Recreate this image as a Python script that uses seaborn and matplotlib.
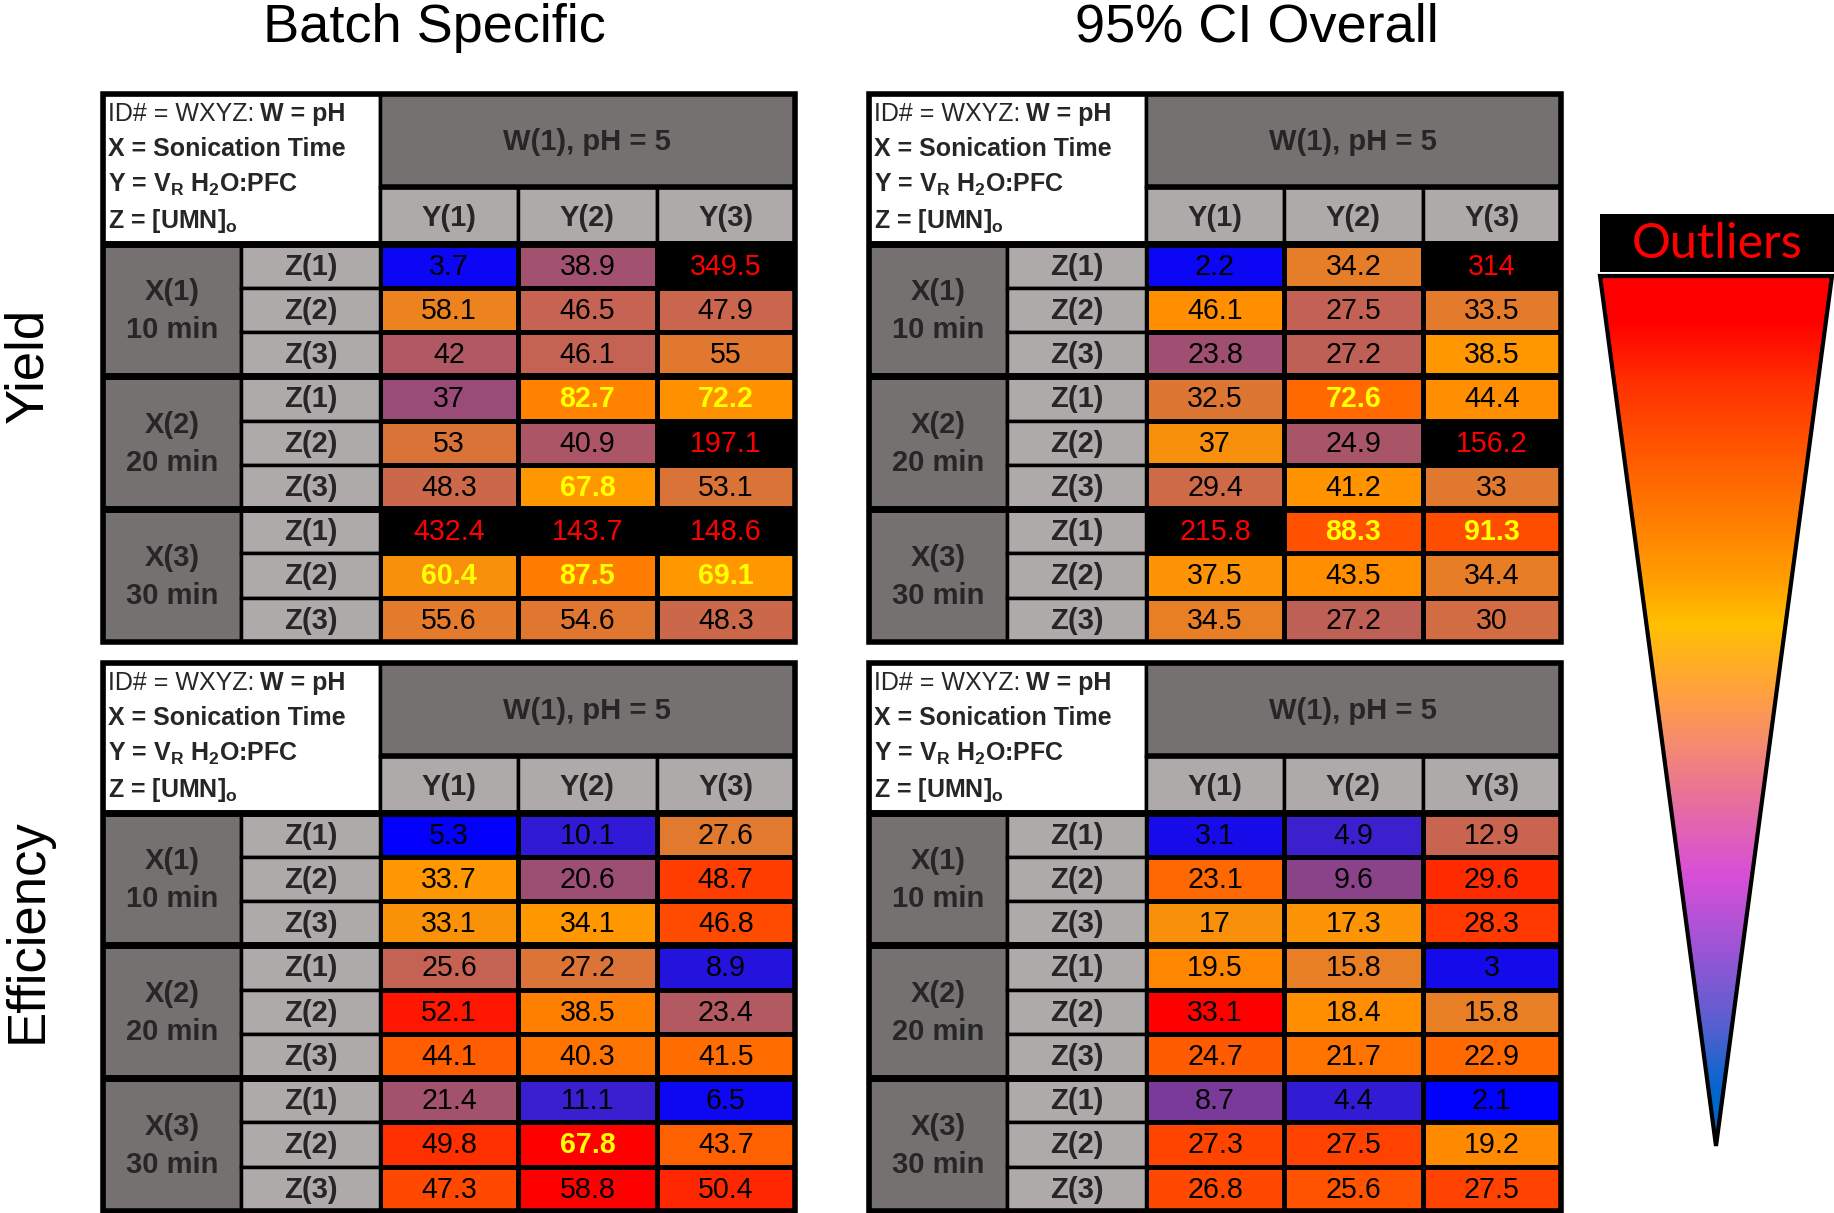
import numpy as np
import matplotlib
matplotlib.use("Agg")
import matplotlib.pyplot as plt
import seaborn as sns
from matplotlib import colors as mcolors
from matplotlib import font_manager
from matplotlib.patches import Rectangle, Polygon

sns.set_theme(style="white")
plt.rcParams["font.family"] = ["Liberation Sans", "DejaVu Sans"]

# ---------------------------------------------------------------------------
# data (rows = Z(1..3) inside X(1..3), columns = Y(1..3))
# ---------------------------------------------------------------------------
Y_LABELS = ["Y(1)", "Y(2)", "Y(3)"]
Z_LABELS = ["Z(1)", "Z(2)", "Z(3)"]
X_LABELS = ["X(1)", "X(2)", "X(3)"]
X_TIMES = ["10 min", "20 min", "30 min"]
W_LABEL = "W(1), pH = 5"
COL_TITLES = ["Batch Specific", "95% CI Overall"]
ROW_TITLES = ["Yield", "Efficiency"]

yield_batch = [
    [3.7, 38.9, 349.5],
    [58.1, 46.5, 47.9],
    [42, 46.1, 55],
    [37, 82.7, 72.2],
    [53, 40.9, 197.1],
    [48.3, 67.8, 53.1],
    [432.4, 143.7, 148.6],
    [60.4, 87.5, 69.1],
    [55.6, 54.6, 48.3],
]
yield_ci = [
    [2.2, 34.2, 314],
    [46.1, 27.5, 33.5],
    [23.8, 27.2, 38.5],
    [32.5, 72.6, 44.4],
    [37, 24.9, 156.2],
    [29.4, 41.2, 33],
    [215.8, 88.3, 91.3],
    [37.5, 43.5, 34.4],
    [34.5, 27.2, 30],
]
eff_batch = [
    [5.3, 10.1, 27.6],
    [33.7, 20.6, 48.7],
    [33.1, 34.1, 46.8],
    [25.6, 27.2, 8.9],
    [52.1, 38.5, 23.4],
    [44.1, 40.3, 41.5],
    [21.4, 11.1, 6.5],
    [49.8, 67.8, 43.7],
    [47.3, 58.8, 50.4],
]
eff_ci = [
    [3.1, 4.9, 12.9],
    [23.1, 9.6, 29.6],
    [17, 17.3, 28.3],
    [19.5, 15.8, 3],
    [33.1, 18.4, 15.8],
    [24.7, 21.7, 22.9],
    [8.7, 4.4, 2.1],
    [27.3, 27.5, 19.2],
    [26.8, 25.6, 27.5],
]

OUTLIER_MIN = 100   # shown black with red text
HIGHLIGHT_MIN = 60  # bold yellow text

# colour scale: anchor values -> position on the colour map, one per table
SCALES = {
    "yield_batch": ([0, 37, 47, 55, 60, 68, 150], [0, 0.38, 0.5, 0.6, 0.72, 0.75, 1]),
    "yield_ci": ([0, 24, 28, 33, 38, 125], [0, 0.4, 0.5, 0.6, 0.75, 1]),
    "eff_batch": ([5, 11, 21, 26, 27.5, 34, 44, 54], [0, 0.18, 0.4, 0.5, 0.6, 0.75, 0.87, 1]),
    "eff_ci": ([2, 4.7, 8.7, 12.9, 15.8, 17.5, 23, 28, 33],
               [0, 0.18, 0.3, 0.5, 0.65, 0.75, 0.85, 0.93, 1]),
}

CELL_CMAP = mcolors.LinearSegmentedColormap.from_list("cells", [
    (0.00, "#0000FF"), (0.10, "#2010E0"), (0.18, "#3A1FD0"), (0.30, "#7A3A98"),
    (0.40, "#A05070"), (0.50, "#C86450"), (0.60, "#E07830"), (0.67, "#EC8220"),
    (0.75, "#FF9800"), (0.85, "#FF6A00"), (0.93, "#FF4000"), (1.00, "#FF0000"),
])
LEGEND_CMAP = mcolors.LinearSegmentedColormap.from_list("legend", [
    (0.00, "#0066CC"), (0.06, "#0066CC"), (0.14, "#5A5FD0"), (0.22, "#9955D5"),
    (0.31, "#D84FD8"), (0.40, "#E8709A"), (0.46, "#F48A72"), (0.52, "#FFA040"),
    (0.60, "#FFC000"), (0.65, "#FFA000"), (0.75, "#FF7000"), (0.88, "#FF3000"),
    (0.95, "#FF0000"), (1.00, "#FF0000"),
])

DARK_GRAY = "#767171"
LIGHT_GRAY = "#AEAAAA"

installed = {f.name for f in font_manager.fontManager.ttflist}
if "Liberation Sans Narrow" in installed:
    CELL_FONT, FS = "Liberation Sans Narrow", 1.0
else:
    CELL_FONT, FS = "Liberation Sans", 0.84

FIG_W, FIG_H = 1834, 1213
HDR = 3.38        # header height in row units
W_SPLIT = -1.27   # border between W header and Y header

fig = plt.figure(figsize=(FIG_W / 100, FIG_H / 100), dpi=100)

# overlay for titles and the legend, in pixel coordinates
over = fig.add_axes([0, 0, 1, 1])
over.set_xlim(0, FIG_W)
over.set_ylim(FIG_H, 0)
over.axis("off")

for x, title in zip([434, 1257], COL_TITLES):
    over.text(x, 42, title, ha="center", va="baseline", fontsize=39, color="black")
for y, title in zip([365, 931], ROW_TITLES):
    over.text(42, y, title, rotation=90, rotation_mode="anchor",
              ha="center", va="baseline", fontsize=38, color="black")

# legend: "Outliers" box + gradient triangle
over.add_patch(Rectangle((1600, 214), 234, 58, facecolor="black", edgecolor="none"))
over.text(1717, 244, "Outliers", ha="center", va="center", fontsize=35,
          color="#FF0000", family=["Lato", "DejaVu Sans"])
tri = Polygon([(1600, 276), (1832, 276), (1716, 1146)], closed=True,
              facecolor="none", edgecolor="black", lw=3, zorder=3)
grad = np.linspace(1, 0, 400)[:, None]
im = over.imshow(grad, cmap=LEGEND_CMAP, aspect="auto",
                 extent=(1600, 1832, 1146, 276), interpolation="bilinear", zorder=2)
over.add_patch(tri)
im.set_clip_path(tri)
over.set_xlim(0, FIG_W)
over.set_ylim(FIG_H, 0)


def draw_table(rect, values, scale):
    left, top, right, bottom = rect
    ax = fig.add_axes([left / FIG_W, 1 - bottom / FIG_H,
                       (right - left) / FIG_W, (bottom - top) / FIG_H])
    ax.set_facecolor("black")

    vals = np.array(values, dtype=float)
    outlier = vals >= OUTLIER_MIN
    av, ap = scale
    norm = mcolors.FuncNorm((lambda v: np.interp(v, av, ap),
                             lambda p: np.interp(p, ap, av)),
                            vmin=av[0], vmax=av[-1])
    sns.heatmap(np.where(outlier, np.nan, vals), ax=ax, cmap=CELL_CMAP, norm=norm,
                cbar=False, linewidths=2.5, linecolor="black",
                xticklabels=False, yticklabels=False)

    # value labels
    for i in range(vals.shape[0]):
        for j in range(vals.shape[1]):
            v = vals[i, j]
            if outlier[i, j]:
                color, weight = "#FF0000", "normal"
            elif v >= HIGHLIGHT_MIN:
                color, weight = "#FFFF00", "bold"
            else:
                color, weight = "black", "normal"
            ax.text(j + 0.5, i + 0.52, f"{v:g}", ha="center", va="center",
                    fontsize=24.5 * FS, color=color, fontweight=weight,
                    family=[CELL_FONT, "DejaVu Sans"], zorder=5)

    def cell(x, y, w, h, fc):
        ax.add_patch(Rectangle((x, y), w, h, facecolor=fc, edgecolor="black",
                               lw=2.5, zorder=2))

    # header block
    cell(-2, -HDR, 2, HDR, "white")
    cell(0, -HDR, 3, HDR + W_SPLIT, DARK_GRAY)
    ax.text(1.5, (-HDR + W_SPLIT) / 2 + 0.02, W_LABEL, ha="center", va="center",
            fontsize=25 * FS, fontweight="bold", family=[CELL_FONT, "DejaVu Sans"], zorder=5)
    for j, lab in enumerate(Y_LABELS):
        cell(j, W_SPLIT, 1, -W_SPLIT, LIGHT_GRAY)
        ax.text(j + 0.5, W_SPLIT / 2 + 0.06, lab, ha="center", va="center",
                fontsize=25 * FS, fontweight="bold", family=[CELL_FONT, "DejaVu Sans"], zorder=5)

    # row headers
    for g in range(3):
        cell(-2, 3 * g, 1, 3, DARK_GRAY)
        ax.text(-1.5, 3 * g + 1.1, X_LABELS[g], ha="center", va="center",
                fontsize=25 * FS, fontweight="bold", family=[CELL_FONT, "DejaVu Sans"], zorder=5)
        ax.text(-1.5, 3 * g + 1.95, X_TIMES[g], ha="center", va="center",
                fontsize=25 * FS, fontweight="bold", family=[CELL_FONT, "DejaVu Sans"], zorder=5)
        for k in range(3):
            cell(-1, 3 * g + k, 1, 1, LIGHT_GRAY)
            ax.text(-0.5, 3 * g + k + 0.52, Z_LABELS[k], ha="center", va="center",
                    fontsize=25 * FS, fontweight="bold", family=[CELL_FONT, "DejaVu Sans"], zorder=5)

    ax.hlines([0, 3, 6], -2, 3, colors="black", lw=5, zorder=4)
    ax.hlines(W_SPLIT, 0, 3, colors="black", lw=4, zorder=4)
    ax.add_patch(Rectangle((-2, -HDR), 5, 9 + HDR, fill=False, edgecolor="black",
                           lw=4, zorder=6, clip_on=False))

    # key in the top-left box
    x0 = -1.965
    t1 = ax.text(x0, -2.93, "ID# = WXYZ:", ha="left", va="center", fontsize=18, zorder=5)
    ax.annotate("W = pH", xy=(1, 0), xycoords=t1, xytext=(4, 0), textcoords="offset points",
                ha="left", va="bottom", fontsize=18, fontweight="bold", zorder=5)
    ax.text(x0, -2.14, "X = Sonication Time", ha="left", va="center",
            fontsize=18, fontweight="bold", zorder=5)
    ax.text(x0, -1.32, r"Y = V$_\mathregular{R}$ H$_\mathregular{2}$O:PFC", ha="left",
            va="center", fontsize=18, fontweight="bold", zorder=5)
    ax.text(x0, -0.50, r"Z = [UMN]$_\mathregular{o}$", ha="left", va="center",
            fontsize=18, fontweight="bold", zorder=5)

    ax.set_xlim(-2, 3)
    ax.set_ylim(9, -HDR)
    ax.set_xticks([])
    ax.set_yticks([])
    for s in ax.spines.values():
        s.set_visible(False)


draw_table((103, 94, 795, 642), yield_batch, SCALES["yield_batch"])
draw_table((869, 94, 1561, 642), yield_ci, SCALES["yield_ci"])
draw_table((103, 663, 795, 1211), eff_batch, SCALES["eff_batch"])
draw_table((869, 663, 1561, 1211), eff_ci, SCALES["eff_ci"])

fig.savefig("out.png", dpi=100, facecolor="white")
